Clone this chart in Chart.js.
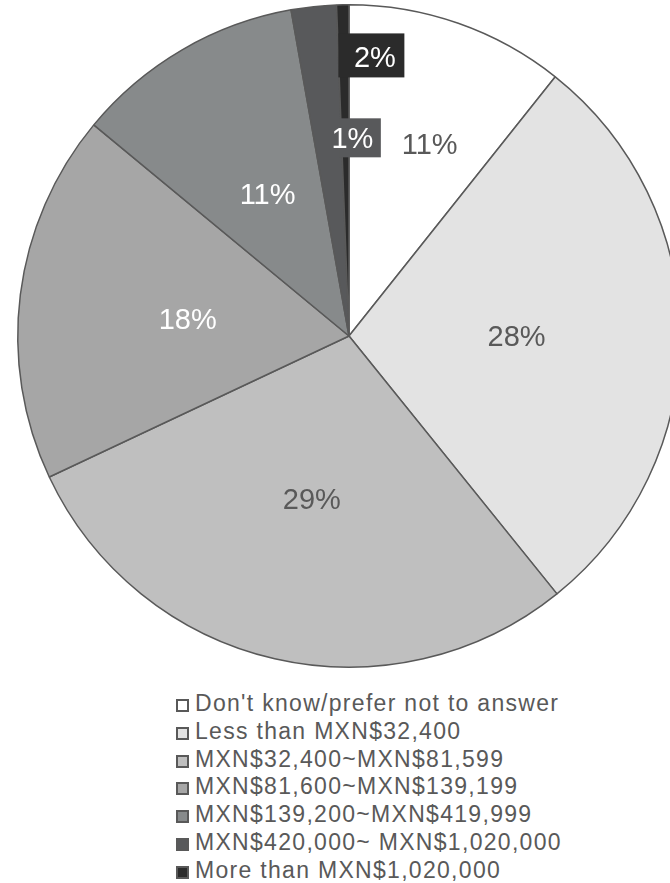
<!DOCTYPE html>
<html>
<head>
<meta charset="utf-8">
<script src="https://cdn.jsdelivr.net/npm/chart.js@4/dist/chart.umd.min.js"></script>
<style>
  html, body { margin: 0; padding: 0; background: #fff; }
  #wrap { position: relative; width: 670px; height: 883px; overflow: hidden; }
  #box { position: absolute; left: 0; top: 0; width: 698px; height: 672px; }
  #legend { position: absolute; left: 176px; top: 690px; margin: 0; padding: 0; list-style: none;
            font-family: "Liberation Sans", Arial, sans-serif; font-size: 23px; color: #595959;
            letter-spacing: 1.3px; }
  #legend li { height: 27.8px; line-height: 27.8px; white-space: nowrap; }
  #legend span.sw { display: inline-block; width: 9px; height: 9px; border: 2px solid #595959;
                    margin-right: 6px; vertical-align: -1px; }
</style>
</head>
<body>
<div id="wrap">
  <div id="box"><canvas id="pie"></canvas></div>
  <ul id="legend"></ul>
</div>
<script>
// categories, clockwise from 12 o'clock
var categories = [
    "Don't know/prefer not to answer",
    "Less than MXN$32,400",
    "MXN$32,400~MXN$81,599",
    "MXN$81,600~MXN$139,199",
    "MXN$139,200~MXN$419,999",
    "MXN$420,000~ MXN$1,020,000",
    "More than MXN$1,020,000"
];
// slice sizes (share, %)
var shares = [10.7, 28.5, 28.8, 18.0, 11.2, 2.2, 0.6];
// printed data labels
var pctLabels = ['11%', '28%', '29%', '18%', '11%', '1%', '2%'];

var sliceColors = ['#ffffff', '#e3e3e3', '#bfbfbf', '#a6a6a6', '#878a8b', '#58595b', '#2b2b2b'];

// draws the percentage labels at half radius, with a few nudged like the original
const pctLabelPlugin = {
    id: 'pctLabels',
    afterDatasetsDraw(chart, args, opts) {
        const ctx = chart.ctx;
        const arcs = chart.getDatasetMeta(0).data;
        ctx.save();
        ctx.font = opts.font;
        ctx.textAlign = 'center';
        ctx.textBaseline = 'middle';
        arcs.forEach(function (arc, i) {
            const p = arc.getProps(['x', 'y', 'startAngle', 'endAngle', 'outerRadius'], true);
            const mid = (p.startAngle + p.endAngle) / 2;
            const r = p.outerRadius * 0.5;
            const off = opts.offsets[i] || [0, 0];
            const x = p.x + Math.cos(mid) * r + off[0];
            const y = p.y + Math.sin(mid) * r + off[1];
            const b = opts.boxes[i];
            if (b) {
                ctx.fillStyle = sliceColors[i];
                ctx.fillRect(x + b[0] - b[2] / 2, y + b[1] - b[3] / 2, b[2], b[3]);
            }
            ctx.fillStyle = opts.colors[i];
            ctx.fillText(pctLabels[i], x, y + 1);
        });
        ctx.restore();
    }
};

const chart = new Chart(document.getElementById('pie'), {
    type: 'pie',
    data: {
        labels: categories,
        datasets: [{
            data: shares,
            backgroundColor: sliceColors,
            borderColor: '#595959',
            borderWidth: 1.5,
            borderAlign: 'center'
        }]
    },
    options: {
        responsive: true,
        maintainAspectRatio: false,
        animation: false,
        layout: { padding: 4 },
        plugins: {
            legend: { display: false },
            tooltip: { enabled: false },
            pctLabels: {
                font: '29px "Liberation Sans", Arial, sans-serif',
                colors: ['#595959', '#595959', '#595959', '#ffffff', '#ffffff', '#ffffff', '#ffffff'],
                offsets: [[26, -35], [2, 2], [0, 3], [3, 5], [2, 2], [21, -32], [29, -112]],
                // [dx, dy, w, h] of the filled box around a label
                boxes: [null, null, null, null, null, [8, -1.5, 41, 39], [-3.5, -3, 66, 44]]
            }
        }
    },
    plugins: [pctLabelPlugin]
});

// one-column legend under the pie, built from the chart's own labels
const legendEl = document.getElementById('legend');
chart.options.plugins.legend.labels.generateLabels(chart).forEach(function (item) {
    const li = document.createElement('li');
    const sw = document.createElement('span');
    sw.className = 'sw';
    sw.style.background = item.fillStyle;
    li.appendChild(sw);
    li.appendChild(document.createTextNode(item.text));
    legendEl.appendChild(li);
});
</script>
</body>
</html>
